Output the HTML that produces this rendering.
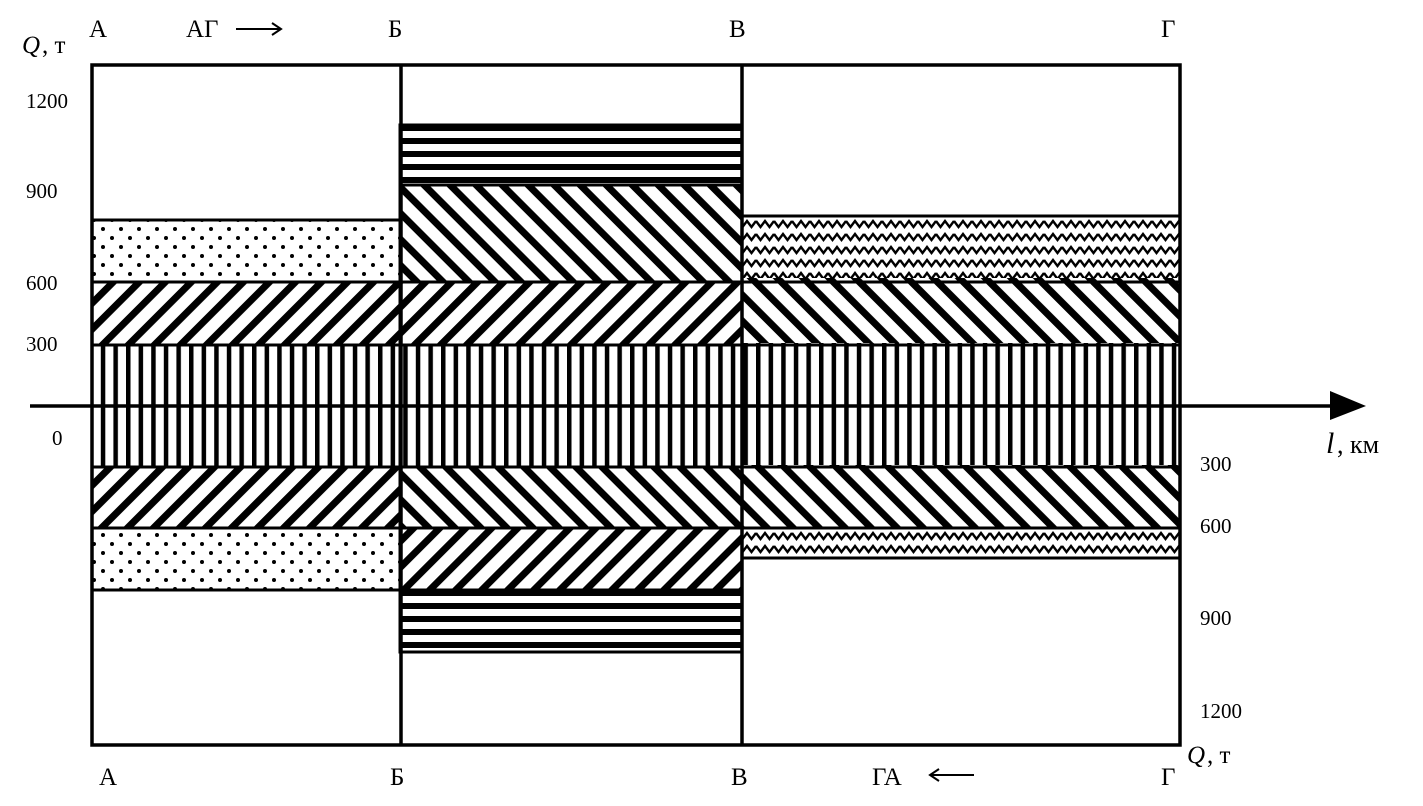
<!DOCTYPE html>
<html><head><meta charset="utf-8"><style>
body{margin:0;background:#fff}
svg{display:block}
text{font-family:"Liberation Serif","DejaVu Serif",serif;fill:#000}
</style></head><body>
<svg width="1423" height="806" viewBox="0 0 1423 806" xmlns="http://www.w3.org/2000/svg">
<defs>
<pattern id="fs" patternUnits="userSpaceOnUse" width="18.4" height="18.4" patternTransform="rotate(45)">
<rect width="18.4" height="18.4" fill="#fff"/><rect x="0" y="0" width="7" height="18.4" fill="#000"/></pattern>
<pattern id="bs" patternUnits="userSpaceOnUse" width="18.4" height="18.4" patternTransform="rotate(-45)">
<rect width="18.4" height="18.4" fill="#fff"/><rect x="0" y="0" width="7" height="18.4" fill="#000"/></pattern>
<pattern id="vs" patternUnits="userSpaceOnUse" width="12.6" height="20">
<rect width="12.6" height="20" fill="#fff"/><rect x="0" y="0" width="4.5" height="20" fill="#000"/></pattern>
<pattern id="hs" patternUnits="userSpaceOnUse" width="20" height="13" y="125">
<rect width="20" height="13" fill="#fff"/><rect x="0" y="0" width="20" height="6" fill="#000"/></pattern>
<pattern id="hs2" patternUnits="userSpaceOnUse" width="20" height="13" y="590">
<rect width="20" height="13" fill="#fff"/><rect x="0" y="0" width="20" height="6" fill="#000"/></pattern>
<pattern id="dt" patternUnits="userSpaceOnUse" width="18" height="18">
<rect width="18" height="18" fill="#fff"/><circle cx="4" cy="4" r="2" fill="#000"/><circle cx="13" cy="13" r="2" fill="#000"/></pattern>
<pattern id="wv" patternUnits="userSpaceOnUse" width="18" height="13" y="218">
<rect width="18" height="13" fill="#fff"/><path d="M0,3 L4.5,9 L9,3 L13.5,9 L18,3" stroke="#000" stroke-width="2.4" fill="none"/></pattern>
</defs>
<rect x="92" y="220" width="308" height="62" fill="url(#dt)"/>
<rect x="92" y="282" width="308" height="63" fill="url(#fs)"/>
<rect x="92" y="345" width="308" height="122" fill="url(#vs)"/>
<rect x="92" y="467" width="308" height="61" fill="url(#fs)"/>
<rect x="92" y="528" width="308" height="62" fill="url(#dt)"/>
<rect x="400" y="125" width="342" height="60" fill="url(#hs)"/>
<rect x="400" y="185" width="342" height="97" fill="url(#bs)"/>
<rect x="400" y="282" width="342" height="63" fill="url(#fs)"/>
<rect x="400" y="345" width="342" height="122" fill="url(#vs)"/>
<rect x="400" y="467" width="342" height="61" fill="url(#bs)"/>
<rect x="400" y="528" width="342" height="62" fill="url(#fs)"/>
<rect x="400" y="590" width="342" height="62" fill="url(#hs2)"/>
<rect x="742" y="216" width="438" height="62" fill="url(#wv)"/>
<rect x="742" y="278" width="438" height="65" fill="url(#bs)"/>
<rect x="742" y="343" width="438" height="122" fill="url(#vs)"/>
<rect x="742" y="465" width="438" height="63" fill="url(#bs)"/>
<rect x="742" y="528" width="438" height="30" fill="url(#wv)"/>
<g stroke="#000" stroke-width="3" fill="none">
<rect x="92" y="220" width="308" height="370"/>
<rect x="400" y="125" width="342" height="527"/>
<rect x="742" y="216" width="438" height="342"/>
<line x1="92" y1="282" x2="1180" y2="282"/>
<line x1="92" y1="345" x2="1180" y2="345"/>
<line x1="92" y1="467" x2="1180" y2="467"/>
<line x1="92" y1="528" x2="1180" y2="528"/>
<line x1="400" y1="185" x2="742" y2="185"/>
<line x1="400" y1="590" x2="742" y2="590"/>
</g>
<g stroke="#000" stroke-width="3.5" fill="none">
<rect x="92" y="65" width="1088" height="680"/>
<line x1="401" y1="65" x2="401" y2="745"/>
<line x1="742" y1="65" x2="742" y2="745"/>
</g>
<line x1="30" y1="406" x2="1335" y2="406" stroke="#000" stroke-width="3.5"/>
<polygon points="1330,391 1366,406 1330,420" fill="#000"/>
<g stroke="#000" stroke-width="2" fill="none">
<path d="M236,29 H280 M272,23 L281,29 L272,35"/>
<path d="M930,775 H974 M939,769 L930,775 L939,781"/>
</g>
<g font-size="25">
<text x="22" y="53" font-style="italic">Q</text><text x="42" y="53">, т</text>
<text x="89" y="37">А</text>
<text x="186" y="37">АГ</text>
<text x="388" y="37">Б</text>
<text x="729" y="37">В</text>
<text x="1161" y="37">Г</text>
<text x="99" y="785">А</text>
<text x="390" y="785">Б</text>
<text x="731" y="785">В</text>
<text x="872" y="785">ГА</text>
<text x="1161" y="785">Г</text>
<text x="1187" y="763" font-style="italic">Q</text><text x="1207" y="763">, т</text>
<text x="1326" y="453" font-style="italic" font-size="30">l</text><text x="1337" y="453" font-size="26">, км</text>
</g>
<g font-size="21">
<text x="26" y="108">1200</text>
<text x="26" y="198">900</text>
<text x="26" y="290">600</text>
<text x="26" y="351">300</text>
<text x="52" y="445">0</text>
<text x="1200" y="471">300</text>
<text x="1200" y="533">600</text>
<text x="1200" y="625">900</text>
<text x="1200" y="718">1200</text>
</g>
</svg>
</body></html>
